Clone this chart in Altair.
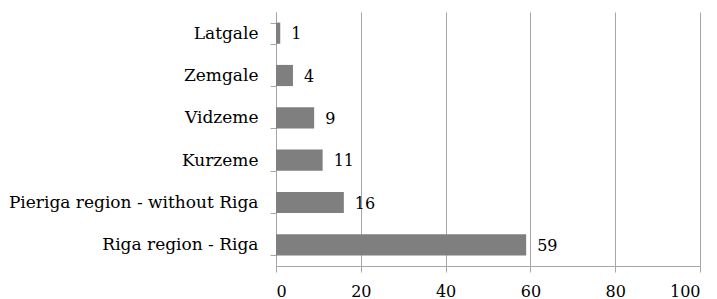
import altair as alt
import pandas as pd

regions = ["Latgale", "Zemgale", "Vidzeme", "Kurzeme", "Pieriga region - without Riga", "Riga region - Riga"]
values = [1, 4, 9, 11, 16, 59]

df = pd.DataFrame({"region": regions, "value": values})

FONT = "DejaVu Serif"

y = alt.Y("region:N", sort=regions, title=None,
          scale=alt.Scale(paddingInner=0.5, paddingOuter=0.25),
          axis=alt.Axis(domainColor="#a6a6a6", tickColor="#a6a6a6", tickSize=6,
                        tickBand="extent", labelPadding=12, labelFontSize=17,
                        labelFont=FONT, labelColor="#000000", grid=False,
                        labelLimit=0))
x = alt.X("value:Q", title=None,
          scale=alt.Scale(domain=[0, 100], nice=False),
          axis=alt.Axis(values=[0, 20, 40, 60, 80, 100], domainColor="#a6a6a6",
                        tickColor="#a6a6a6", tickSize=6, gridColor="#a6a6a6",
                        gridWidth=1, labelFontSize=16, labelFont=FONT,
                        labelColor="#000000", labelPadding=11))

bars = alt.Chart(df).mark_bar(color="#7f7f7f").encode(x=x, y=y)
labels = alt.Chart(df).mark_text(align="left", baseline="middle", dx=11, dy=1,
                                 fontSize=16, font=FONT, color="#000000").encode(
    x="value:Q", y=alt.Y("region:N", sort=regions), text="value:Q")

chart = (bars + labels).properties(
    width=424, height=254,
    autosize=alt.AutoSizeParams(type="none"),
    padding={"left": 268, "top": 4, "right": 9, "bottom": 33}
).configure_view(stroke=None).configure_axisX(gridOpacity=1)

chart.save("out.html", embed_options={"renderer": "svg", "actions": False})
